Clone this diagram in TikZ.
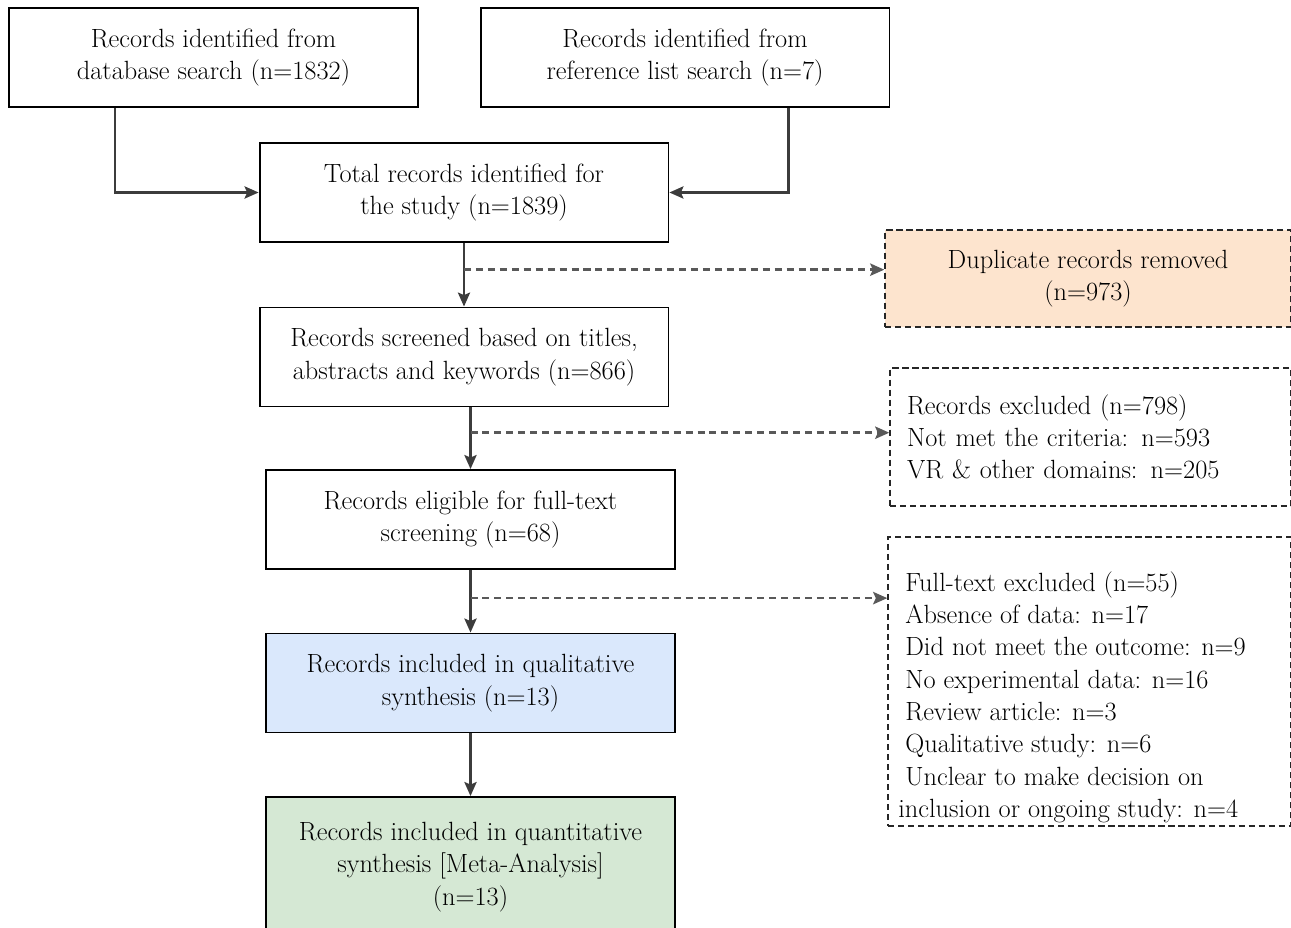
\documentclass[tikz,border=0pt]{standalone}
\usepackage{tikz}
\usetikzlibrary{%
  calc,%
  arrows.meta%
}
\definecolor{dupfill}{HTML}{FDE4CE}
\definecolor{qualfill}{HTML}{DAE8FC}
\definecolor{quantfill}{HTML}{D5E8D4}
\definecolor{linegray}{HTML}{3C3C3C}

\begin{document}
\begin{tikzpicture}[x=0.02cm,y=-0.02cm,
  font=\fontsize{15}{18.4}\selectfont,
  box/.style={draw=black,line width=1.1pt,align=center,inner sep=0pt,
    minimum width=8.18cm,minimum height=1.98cm},
  dashbox/.style={draw=black!85,line width=0.9pt,dash pattern=on 3.5pt off 2.2pt,
    inner sep=0pt},
  flow/.style={-{Stealth[length=8pt,width=7pt,inset=1.5pt]},draw=linegray,line width=1.2pt},
  skip/.style={-{Stealth[length=8pt,width=7pt,inset=1.5pt]},draw=linegray!85,line width=1.5pt,
    dash pattern=on 4pt off 2.8pt}]

 \useasboundingbox (0,0) rectangle (1291,928);

 %% identification
 \node[box] (dbase) at (213.5,57.5) {Records identified from\\database search (n=1832)};
 \node[box] (reflist) at (685,57.5) {Records identified from\\reference list search (n=7)};
 \node[box] (total) at (464,192.5) {Total records identified for\\the study (n=1839)};

 \draw[flow] ($(dbase.south west)!0.26!(dbase.south east)$) |- (total.west);
 \draw[flow] ($(reflist.south west)!0.752!(reflist.south east)$) |- (total.east);

 %% screening
 \node[box] (screen) at (464,357) {Records screened based on titles,\\abstracts and keywords (n=866)};
 \node[box] (elig) at (470.5,519.5) {Records eligible for full-text\\screening (n=68)};

 %% included
 \node[box,fill=qualfill] (qual) at (470.5,683) {Records included in qualitative\\synthesis (n=13)};
 \node[box,fill=quantfill,minimum height=2.8cm] (quant) at (470.5,867)
   {Records included in quantitative\\synthesis [Meta-Analysis]\\(n=13)};

 %% removed / excluded
 \node[dashbox,fill=dupfill,align=center,minimum width=8.12cm,minimum height=1.94cm]
   (dup) at (1088,278.5) {Duplicate records removed\\(n=973)};
 \node[dashbox,align=left,text width=7.34cm,inner xsep=0.34cm,minimum height=2.76cm]
   (excl) at (1090.5,437) {Records excluded (n=798)\\Not met the criteria: n=593\\VR \& other domains: n=205};
 \node[dashbox,minimum width=8.06cm,minimum height=5.78cm] (fullx) at (1089.5,681.5) {};
 \node[align=left,anchor=west,inner sep=0pt] (fullxtxt) at (905,697)
   {Full-text excluded (n=55)\\Absence of data: n=17\\Did not meet the outcome: n=9\\
    No experimental data: n=16\\Review article: n=3\\Qualitative study: n=6\\
    Unclear to make decision on\\\hspace*{-0.14cm}inclusion or ongoing study: n=4};

 %% main flow
 \draw[flow] (total.south) -- (screen.north);
 \draw[flow] (elig.north |- screen.south) -- (elig.north);
 \draw[flow] (elig.south) -- (qual.north);
 \draw[flow] (qual.south) -- (quant.north);

 %% side branches
 \coordinate (br1) at ($(total.south)!0.42!(screen.north)$);
 \coordinate (br2) at ($(elig.north |- screen.south)!0.41!(elig.north)$);
 \coordinate (br3) at ($(elig.south)!0.45!(qual.north)$);
 \draw[skip] (br1) -- (br1 -| dup.west);
 \draw[skip] (br2) -- (br2 -| excl.west);
 \draw[skip] (br3) -- (br3 -| fullx.west);

\end{tikzpicture}
\end{document}
